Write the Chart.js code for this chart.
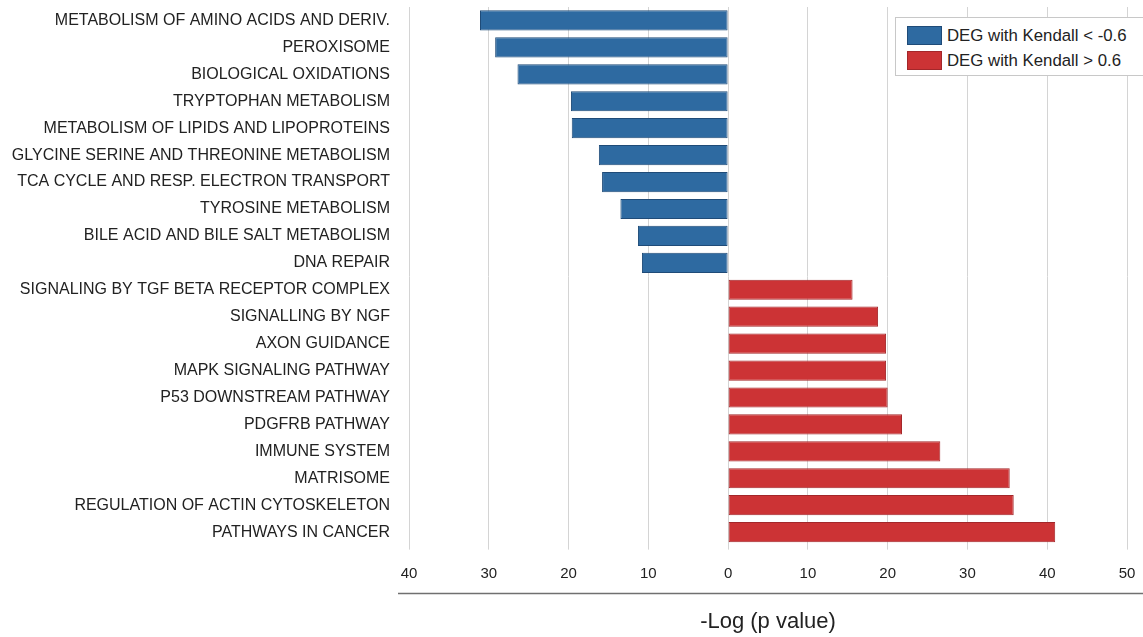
<!DOCTYPE html>
<html>
<head>
<meta charset="utf-8">
<script src="https://cdn.jsdelivr.net/npm/chart.js@4/dist/chart.umd.min.js"></script>
<style>
  html, body { margin: 0; padding: 0; background: #fff; overflow: hidden; }
  #wrap { position: relative; width: 1143px; height: 637px; }
  #legend {
    position: absolute; left: 895px; top: 17px; width: 260px; height: 59px;
    border: 1px solid #c8c8c8; background: #fff; box-sizing: border-box;
    font-family: 'Liberation Sans', Arial, sans-serif; font-size: 16.8px; color: #222;
  }
  #legend .item { position: absolute; left: 11px; height: 19px; line-height: 19px; white-space: nowrap; }
  #legend .sw { display: inline-block; width: 35px; height: 19px; vertical-align: top; margin-right: 5px; box-sizing: border-box; }
</style>
</head>
<body>
<div id="wrap">
  <canvas id="bar-chart" width="1143" height="637"></canvas>
  <div id="legend"></div>
</div>
<script>
const categories = [
  'METABOLISM OF AMINO ACIDS AND DERIV.',
  'PEROXISOME',
  'BIOLOGICAL OXIDATIONS',
  'TRYPTOPHAN METABOLISM',
  'METABOLISM OF LIPIDS AND LIPOPROTEINS',
  'GLYCINE SERINE AND THREONINE METABOLISM',
  'TCA CYCLE AND RESP. ELECTRON TRANSPORT',
  'TYROSINE METABOLISM',
  'BILE ACID AND BILE SALT METABOLISM',
  'DNA REPAIR',
  'SIGNALING BY TGF BETA RECEPTOR COMPLEX',
  'SIGNALLING BY NGF',
  'AXON GUIDANCE',
  'MAPK SIGNALING PATHWAY',
  'P53 DOWNSTREAM PATHWAY',
  'PDGFRB PATHWAY',
  'IMMUNE SYSTEM',
  'MATRISOME',
  'REGULATION OF ACTIN CYTOSKELETON',
  'PATHWAYS IN CANCER',
]

// negative side: down-regulated (Kendall < -0.6)
const negValues = [-31.1, -29.2, -26.4, -19.7, -19.6, -16.2, -15.8, -13.5, -11.3, -10.8,
  null, null, null, null, null, null, null, null, null, null]
// positive side: up-regulated (Kendall > 0.6)
const posValues = [null, null, null, null, null, null, null, null, null, null,
  15.6, 18.8, 19.8, 19.8, 20.0, 21.8, 26.6, 35.3, 35.8, 41.0]

const seriesLabels = ['DEG with Kendall < -0.6', 'DEG with Kendall > 0.6']
const tickMin = -40
const tickMax = 50

const fontFamily = "'Liberation Sans', Arial, sans-serif"

const bottomRule = {
  id: 'bottomRule',
  afterDraw (chart) {
    const ctx = chart.ctx
    const sx = chart.scales.x
    const y = sx.top + 48
    ctx.save()
    ctx.strokeStyle = '#707070'
    ctx.lineWidth = 1.5
    ctx.beginPath()
    ctx.moveTo(398, y)
    ctx.lineTo(chart.width, y)
    ctx.stroke()
    ctx.restore()
  },
}

const barChartConfig = {
  type: 'bar',
  data: {
    labels: categories,
    datasets: [
      {
        label: seriesLabels[0],
        data: negValues,
        backgroundColor: '#2e6aa1',
        borderColor: '#1f4b78',
        borderWidth: 1,
        borderSkipped: false,
      },
      {
        label: seriesLabels[1],
        data: posValues,
        backgroundColor: '#cc3335',
        borderColor: '#a3272a',
        borderWidth: 1,
        borderSkipped: false,
      },
    ],
  },
  options: {
    indexAxis: 'y',
    responsive: false,
    animation: false,
    layout: {
      padding: { top: 7, right: 16, bottom: 0, left: 0 },
    },
    datasets: {
      bar: {
        categoryPercentage: 1,
        barPercentage: 0.75,
      },
    },
    plugins: {
      legend: { display: false },
      tooltip: { enabled: false },
    },
    scales: {
      x: {
        stacked: true,
        min: tickMin,
        max: tickMax,
        border: { display: false },
        grid: {
          color: '#d4d4d4',
          lineWidth: 1,
          tickLength: 4,
        },
        ticks: {
          stepSize: 10,
          padding: 15,
          color: '#222',
          font: { family: fontFamily, size: 15 },
          callback: function (value) {
            return Math.abs(value)
          },
        },
        title: {
          display: true,
          text: '-Log (p value)',
          color: '#222',
          font: { family: fontFamily, size: 22 },
          padding: { top: 11, bottom: 2 },
        },
        afterFit: function (scale) {
          scale.paddingLeft = 0
          scale.paddingRight = 0
        },
      },
      y: {
        stacked: true,
        border: { display: false },
        grid: { display: false },
        ticks: {
          padding: 11,
          color: '#222',
          font: { family: fontFamily, size: 16 },
        },
        afterFit: function (scale) {
          scale.width = 409
          scale.paddingTop = 0
          scale.paddingBottom = 0
        },
      },
    },
  },
  plugins: [bottomRule],
}

const barChartCanvas = document.getElementById('bar-chart').getContext('2d')
const barChart = new Chart(barChartCanvas, barChartConfig)

// html legend inside the plot, top right
const legendBox = document.getElementById('legend')
barChart.data.datasets.forEach(function (ds, i) {
  const item = document.createElement('div')
  item.className = 'item'
  item.style.top = (8 + i * 25) + 'px'
  const sw = document.createElement('span')
  sw.className = 'sw'
  sw.style.background = ds.backgroundColor
  sw.style.border = '1px solid ' + ds.borderColor
  item.appendChild(sw)
  item.appendChild(document.createTextNode(ds.label))
  legendBox.appendChild(item)
})
</script>
</body>
</html>
